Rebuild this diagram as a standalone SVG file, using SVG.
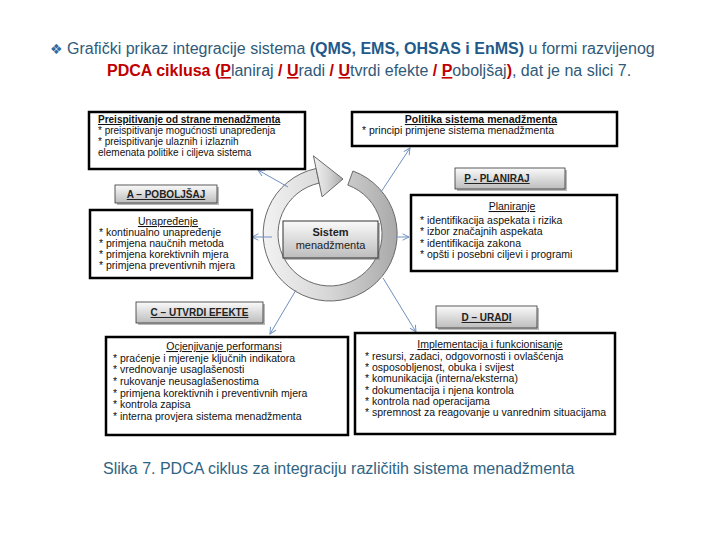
<svg xmlns="http://www.w3.org/2000/svg" width="720" height="540" viewBox="0 0 720 540">
<style>
.t{font-family:"Liberation Sans",Arial,sans-serif}
.title{font-size:16px;fill:#2f5a7a}
.tb{font-weight:bold;fill:#1f5a8a}
.red{font-weight:bold;fill:#c00000}
.ul{text-decoration:underline}
.box{fill:#fff;stroke:#000;stroke-width:2.5}
.lab{fill:url(#lg);stroke:#333;stroke-width:0.8}
.sh{fill:#8a8a8a;opacity:0.6}
.bt{font-size:10.5px;fill:#111}
.hd{font-size:10.5px;fill:#111;font-weight:bold;text-decoration:underline}
.hn{font-size:10.5px;fill:#111;text-decoration:underline}
.lt{font-size:10px;fill:#222;font-weight:bold;text-decoration:underline}
.con{stroke:#6f8fbf;stroke-width:1;fill:none;marker-end:url(#ah)}
.cap{font-size:16px;fill:#2f6482}
</style>
<defs>
<linearGradient id="lg" x1="0" y1="0" x2="0" y2="1">
<stop offset="0" stop-color="#fafafa"/><stop offset="1" stop-color="#bdbdbd"/>
</linearGradient>
<linearGradient id="rg" x1="0" y1="0" x2="1" y2="0">
<stop offset="0" stop-color="#f2f2f2"/><stop offset="0.5" stop-color="#d6d6d6"/><stop offset="1" stop-color="#a9a9a9"/>
</linearGradient>
<marker id="ah" viewBox="0 0 10 10" refX="9" refY="5" markerWidth="8" markerHeight="8" orient="auto" markerUnits="userSpaceOnUse">
<path d="M1,1 L9,5 L1,9" fill="none" stroke="#6f8fbf" stroke-width="1.2"/>
</marker>
</defs>
<rect width="720" height="540" fill="#fff"/>

<g id="title">
<text x="50" y="54" font-size="14" fill="#2f6aa0" font-family="DejaVu Sans,sans-serif">❖</text>
<text class="t title" x="67" y="54">Grafički prikaz integracije sistema <tspan class="tb">(QMS, EMS, OHSAS i EnMS)</tspan> u formi razvijenog</text>
<text class="t title" x="107" y="76"><tspan class="red">PDCA ciklusa (</tspan><tspan class="red ul">P</tspan>laniraj<tspan class="red"> / </tspan><tspan class="red ul">U</tspan>radi<tspan class="red"> / </tspan><tspan class="red ul">U</tspan>tvrdi efekte<tspan class="red"> / </tspan><tspan class="red ul">P</tspan>oboljšaj<tspan class="red">)</tspan>, dat je na slici 7.</text>
</g>

<g id="ring">
<path d="M352.9,171 A67,67 0 1 1 316.1,168.5 L319.2,183.1 A52,52 0 1 0 347.8,185.1 Z" fill="url(#rg)" stroke="#6a6a6a" stroke-width="1"/>
<path d="M313.4,155.8 L343,179 L322.1,196.8 Z" fill="url(#rg)" stroke="#6a6a6a" stroke-width="1"/>
</g>

<g id="connectors">
<line class="con" x1="288" y1="187" x2="258" y2="170"/>
<line class="con" x1="381" y1="192" x2="410" y2="148"/>
<line class="con" x1="272" y1="237" x2="252" y2="237"/>
<line class="con" x1="396" y1="237" x2="409" y2="237"/>
<line class="con" x1="296" y1="290" x2="270" y2="334"/>
<line class="con" x1="383" y1="278" x2="416" y2="332"/>
</g>

<g id="sistem">
<rect class="sh" x="285" y="223" width="95" height="37"/>
<rect x="283" y="221" width="95" height="37" fill="url(#lg)" stroke="#333" stroke-width="1"/>
<text class="t" x="330.5" y="236" font-size="11" font-weight="bold" fill="#222" text-anchor="middle">Sistem</text>
<text class="t" x="330.5" y="249" font-size="11" fill="#222" text-anchor="middle">menadžmenta</text>
</g>

<g id="preispitivanje">
<rect class="box" x="89" y="112" width="216" height="57"/>
<text class="t hd" x="98" y="123" font-size="10px" style="font-size:10px">Preispitivanje od strane menadžmenta</text>
<text class="t bt" x="98" y="134" style="font-size:10px">* preispitivanje mogućnosti unapređenja</text>
<text class="t bt" x="98" y="145" style="font-size:10px">* preispitivanje ulaznih i izlaznih</text>
<text class="t bt" x="98" y="156" style="font-size:10px">elemenata politike i ciljeva sistema</text>
</g>

<g id="politika">
<rect class="box" x="352" y="112" width="265" height="34"/>
<text class="t hd" x="481" y="123" text-anchor="middle">Politika sistema menadžmenta</text>
<text class="t bt" x="362" y="134">* principi primjene sistema menadžmenta</text>
</g>

<g id="a-poboljsaj">
<rect class="sh" x="117" y="187" width="102" height="18"/>
<rect class="lab" x="115" y="185" width="102" height="18"/>
<text class="t lt" x="166" y="198" text-anchor="middle">A – POBOLJŠAJ</text>
</g>

<g id="unapredjenje">
<rect class="box" x="90" y="210" width="162" height="68"/>
<text class="t hn" x="168" y="225" text-anchor="middle">Unapređenje</text>
<text class="t bt" x="99" y="236">* kontinualno unapređenje</text>
<text class="t bt" x="99" y="247">* primjena naučnih metoda</text>
<text class="t bt" x="99" y="258">* primjena korektivnih mjera</text>
<text class="t bt" x="99" y="269">* primjena preventivnih mjera</text>
</g>

<g id="p-planiraj">
<rect class="sh" x="457" y="170" width="110" height="21"/>
<rect class="lab" x="455" y="168" width="110" height="21"/>
<text class="t lt" x="497" y="182" text-anchor="middle">P - PLANIRAJ</text>
</g>

<g id="planiranje">
<rect class="box" x="411" y="195" width="206" height="76"/>
<text class="t hn" x="512" y="210" text-anchor="middle">Planiranje</text>
<text class="t bt" x="420" y="224">* identifikacija aspekata i rizika</text>
<text class="t bt" x="420" y="235">* izbor značajnih aspekata</text>
<text class="t bt" x="420" y="246.5">* identifikacija zakona</text>
<text class="t bt" x="420" y="257.5">* opšti i posebni ciljevi i programi</text>
</g>

<g id="c-utvrdi">
<rect class="sh" x="138" y="304" width="127" height="21"/>
<rect class="lab" x="136" y="302" width="127" height="21"/>
<text class="t lt" x="199.5" y="316" text-anchor="middle">C – UTVRDI EFEKTE</text>
</g>

<g id="ocjenjivanje">
<rect class="box" x="106" y="337" width="242" height="98"/>
<text class="t hn" x="224" y="350" text-anchor="middle">Ocjenjivanje performansi</text>
<text class="t bt" x="113" y="362">* praćenje i mjerenje ključnih indikatora</text>
<text class="t bt" x="113" y="373">* vrednovanje usaglašenosti</text>
<text class="t bt" x="113" y="384.5">* rukovanje neusaglašenostima</text>
<text class="t bt" x="113" y="396.5">* primjena korektivnih i preventivnih mjera</text>
<text class="t bt" x="113" y="408">* kontrola zapisa</text>
<text class="t bt" x="113" y="419.5">* interna provjera sistema menadžmenta</text>
</g>

<g id="d-uradi">
<rect class="sh" x="438" y="308" width="101" height="22"/>
<rect class="lab" x="436" y="306" width="101" height="22"/>
<text class="t lt" x="486.5" y="321" text-anchor="middle">D – URADI</text>
</g>

<g id="implementacija">
<rect class="box" x="355" y="333" width="260" height="101"/>
<text class="t hn" x="490" y="348" text-anchor="middle">Implementacija i funkcionisanje</text>
<text class="t bt" x="365" y="360">* resursi, zadaci, odgovornosti i ovlašćenja</text>
<text class="t bt" x="365" y="371">* osposobljenost, obuka i svijest</text>
<text class="t bt" x="365" y="382">* komunikacija (interna/eksterna)</text>
<text class="t bt" x="365" y="394">* dokumentacija i njena kontrola</text>
<text class="t bt" x="365" y="405">* kontrola nad operacijama</text>
<text class="t bt" x="365" y="416">* spremnost za reagovanje u vanrednim situacijama</text>
</g>

<g id="caption">
<text class="t cap" x="103" y="474">Slika 7. PDCA ciklus za integraciju različitih sistema menadžmenta</text>
</g>
</svg>
